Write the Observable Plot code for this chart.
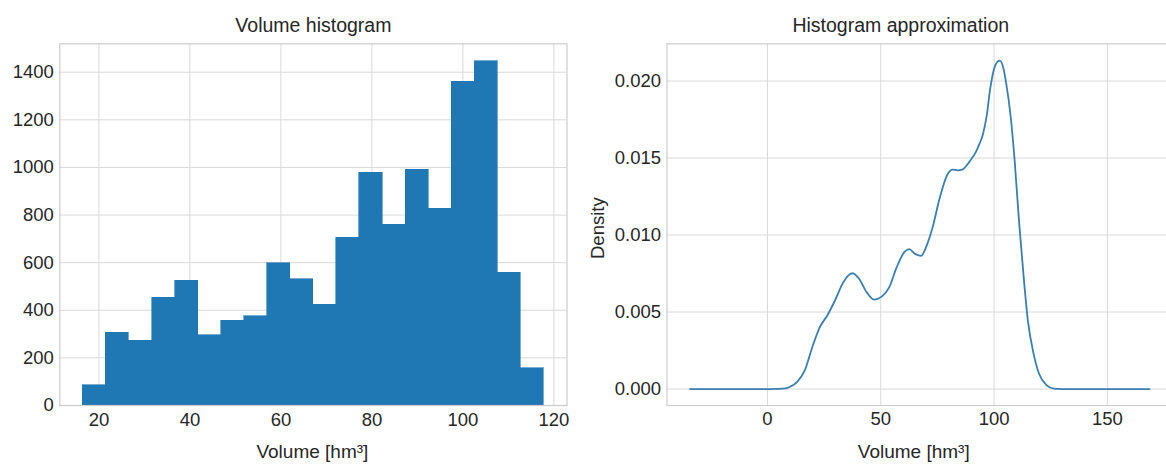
<!DOCTYPE html>
<html><head><meta charset="utf-8">
<script src="https://cdn.jsdelivr.net/npm/d3@7"></script>
<script src="https://cdn.jsdelivr.net/npm/@observablehq/plot@0.6"></script>
<style>
html,body{margin:0;padding:0;background:#fff;overflow:hidden;}
#wrap{position:relative;width:1166px;height:465px;overflow:hidden;background:#fff;}
#left{position:absolute;left:0;top:0;width:583px;height:465px;}
#right{position:absolute;left:583px;top:0;width:620px;height:465px;}
</style></head><body>
<div id="wrap"><div id="left"></div><div id="right"></div></div>
<script>
// ---- data ----
const binEdges = [16.47, 21.54, 26.60, 31.67, 36.74, 41.81, 46.87, 51.94, 57.01, 62.07, 67.14,
                  72.21, 77.27, 82.34, 87.41, 92.48, 97.54, 102.61, 107.68, 112.74, 117.81];
const binCounts = [85, 306, 273, 452, 523, 296, 357, 374, 598, 530,
                   423, 704, 978, 759, 990, 826, 1360, 1447, 557, 157];
const histXTicks = [20, 40, 60, 80, 100, 120];
const histYTicks = [0, 200, 400, 600, 800, 1000, 1200, 1400];

const kdeVolume = [-34.2, -20, -10, 0, 5, 8, 10, 13, 16.5, 19.8, 23.1, 26.4, 29.8, 33.1, 35.5, 37.5,
  40.5, 43.8, 47, 50.4, 53.7, 57, 60.3, 62.5, 65.3, 67.8, 70.2, 72.7, 76, 79.3, 81.8, 84, 86,
  89.3, 92.1, 93.4, 95, 96.7, 98.3, 100, 101.2, 102.5, 104, 105.3, 107.4, 109.1, 111, 113.2,
  114.9, 117.4, 119.8, 123.1, 126.4, 130, 140, 150, 160, 168.6];
const kdeDensity = [0, 0, 0, 0, 0.00001, 0.00004, 0.00015, 0.00045, 0.00123, 0.00273, 0.00402,
  0.00478, 0.00575, 0.00683, 0.00735, 0.00752, 0.00715, 0.00628, 0.00581, 0.00600, 0.0066,
  0.0079, 0.00887, 0.00908, 0.00876, 0.00865, 0.0093, 0.0104, 0.0124, 0.0139, 0.01425, 0.0142,
  0.01425, 0.0148, 0.01543, 0.01587, 0.0165, 0.0177, 0.0195, 0.0208, 0.0212, 0.02133, 0.0209,
  0.0199, 0.0176, 0.0148, 0.0109, 0.00704, 0.00446, 0.00232, 0.00101, 0.00026, 0.00003,
  0, 0, 0, 0, 0];
const kdeXTicks = [0, 50, 100, 150];
const kdeYTicks = [0, 0.005, 0.010, 0.015, 0.020];

const titles = ["Volume histogram", "Histogram approximation"];
const xLabel = "Volume [hm³]";
const yLabelRight = "Density";

// ---- styling ----
const FONT = '"Liberation Sans", Arial, Helvetica, sans-serif';
const TXT = "#262626";
const GRID = "#d9d9d9";
const FRAME = "#cccccc";
const BAR = "#1f77b4";
const LINE = "#3a7fb0";

const bars = binCounts.map((c, i) => ({x1: binEdges[i], x2: binEdges[i + 1], count: c}));
const kde = kdeVolume.map((v, i) => ({volume: v, density: kdeDensity[i]}));

const leftPlot = Plot.plot({
  width: 583, height: 465,
  marginLeft: 59.3, marginRight: 16.5, marginTop: 43.3, marginBottom: 60,
  style: {fontFamily: FONT, fontSize: "18.5px", color: TXT, background: "white", maxWidth: "none"},
  x: {domain: [11.40, 122.88], ticks: histXTicks, tickSize: 0, tickPadding: 7.5, label: null, tickFormat: d => String(d)},
  y: {domain: [0, 1519.35], ticks: histYTicks, tickSize: 0, tickPadding: 6, label: null, tickFormat: d => String(d)},
  marks: [
    Plot.ruleX(histXTicks, {stroke: GRID, strokeWidth: 1}),
    Plot.ruleY(histYTicks, {stroke: GRID, strokeWidth: 1}),
    Plot.rectY(bars, {x1: "x1", x2: "x2", y: "count", fill: BAR, stroke: BAR, strokeWidth: 0.6, inset: 0, shapeRendering: "crispEdges"}),
    Plot.frame({stroke: FRAME, strokeWidth: 1.2}),
    Plot.text([titles[0]], {text: d => d, frameAnchor: "top", lineAnchor: "middle", textAnchor: "middle", dy: -18, fontSize: 19.5, fill: TXT}),
    Plot.text([xLabel], {text: d => d, frameAnchor: "bottom", lineAnchor: "middle", textAnchor: "middle", dy: 46, dx: -1, fontSize: 19, fill: TXT})
  ]
});
document.getElementById("left").appendChild(leftPlot);

const rightPlot = Plot.plot({
  width: 620, height: 465,
  marginLeft: 83.5, marginRight: 31, marginTop: 43.3, marginBottom: 60,
  style: {fontFamily: FONT, fontSize: "18.5px", color: TXT, background: "white", maxWidth: "none"},
  x: {domain: [-44.34, 178.74], ticks: kdeXTicks, tickSize: 0, tickPadding: 6, label: null, tickFormat: d => String(d)},
  y: {domain: [-0.001068, 0.022416], ticks: kdeYTicks, tickSize: 0, tickPadding: 6, label: null, tickFormat: d3.format(".3f")},
  marks: [
    Plot.ruleX(kdeXTicks, {stroke: GRID, strokeWidth: 1}),
    Plot.ruleY(kdeYTicks, {stroke: GRID, strokeWidth: 1}),
    Plot.line(kde, {x: "volume", y: "density", stroke: LINE, strokeWidth: 1.8, curve: "monotone-x"}),
    Plot.frame({anchor: "left", stroke: FRAME, strokeWidth: 1.2}),
    Plot.frame({anchor: "top", stroke: FRAME, strokeWidth: 1.2}),
    Plot.frame({anchor: "bottom", stroke: FRAME, strokeWidth: 1.2}),
    Plot.text([titles[1]], {text: d => d, frameAnchor: "top", lineAnchor: "middle", textAnchor: "middle", dy: -18, dx: -19, fontSize: 19.5, fill: TXT}),
    Plot.text([xLabel], {text: d => d, frameAnchor: "bottom", lineAnchor: "middle", textAnchor: "middle", dy: 46, dx: -6, fontSize: 19, fill: TXT}),
    Plot.text([yLabelRight], {text: d => d, frameAnchor: "left", lineAnchor: "middle", textAnchor: "middle", rotate: -90, dx: -68.5, dy: 3.5, fontSize: 18.5, fill: TXT})
  ]
});
document.getElementById("right").appendChild(rightPlot);
</script>
</body></html>
